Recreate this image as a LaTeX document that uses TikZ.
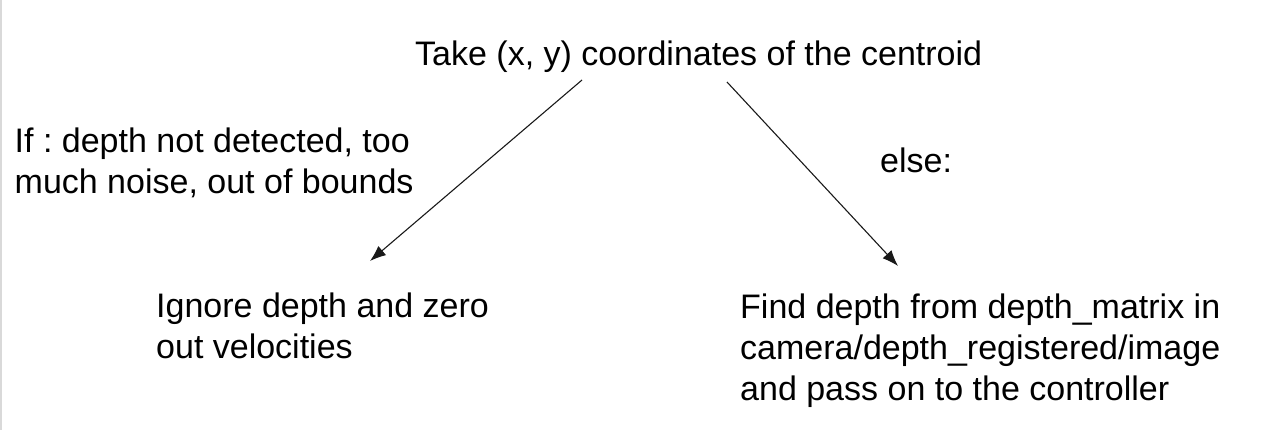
\documentclass[tikz,border=0pt]{standalone}
\usepackage{fontspec}
\setmainfont{Liberation Sans}
\frenchspacing
\usetikzlibrary{arrows.meta}
\begin{document}
\begin{tikzpicture}[x=1pt,y=-1pt,
  lbl/.style={inner sep=0pt,anchor=base west,align=left,font=\fontsize{34}{41}\selectfont},
  arr/.style={line width=1.1pt,color=black!90,-{Latex[length=16pt,width=12pt]}}]
\useasboundingbox (0,0) rectangle (1274,430);
\fill[gray!30] (0,0) rectangle (2,430);
\node[lbl] (top) at (415,66) {Take (x, y) coordinates of the centroid};
\node[lbl] (cond) at (14.5,194) {If : depth not detected, too\\much noise, out of bounds};
\node[lbl] (else) at (880,173) {else:};
\node[lbl] (ign) at (156,358) {Ignore depth and zero\\out velocities};
\node[lbl] (find) at (740,400) {Find depth from depth\_matrix in\\camera/depth\_registered/image\\and pass on to the controller};
\coordinate (s1) at (582,80);
\coordinate (e1) at (370,261);
\coordinate (s2) at (727,82);
\coordinate (e2) at (898,266);
\draw[arr] (s1) -- (e1);
\draw[arr] (s2) -- (e2);
\end{tikzpicture}
\end{document}
